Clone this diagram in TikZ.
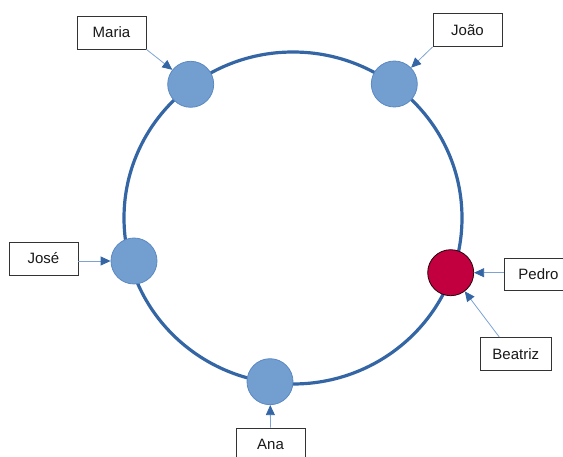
\documentclass[tikz,border=0pt]{standalone}
\usepackage{fontspec}
\setmainfont{Liberation Sans}
\usetikzlibrary{arrows.meta,calc}
\definecolor{ringblue}{HTML}{3465A4}
\definecolor{nodeblue}{HTML}{729FCF}
\definecolor{nodeedge}{HTML}{5B89C4}
\definecolor{pedrored}{HTML}{C2003F}
\definecolor{pointer}{HTML}{7FA2D4}
\definecolor{boxedge}{HTML}{333333}
\begin{document}
\begin{tikzpicture}[x=1pt,y=-1pt,
  member/.style={circle,minimum size=46pt,inner sep=0pt,fill=nodeblue,draw=nodeedge,line width=0.8pt},
  chosen/.style={member,fill=pedrored,draw=black!80!pedrored},
  namebox/.style={draw=boxedge,fill=white,line width=0.9pt,minimum width=69pt,minimum height=33pt,
    inner xsep=12.5pt,font=\fontsize{15}{18}\selectfont,text=black!90},
  pointto/.style={draw=pointer,line width=0.8pt,-{Triangle[length=10pt,width=9pt,color=ringblue]}}]
\useasboundingbox (0,0) rectangle (563,457);
\clip (0,0) rectangle (563,457);
% ring
\draw[ringblue,line width=3.2pt] (293,218) ellipse [x radius=169,y radius=166];
% members on the ring
\node[member] (m) at (190.7,84.3) {};
\node[member] (j) at (394.3,84) {};
\node[member] (js) at (134,261) {};
\node[chosen] (p) at (450.7,272.7) {};
\node[member] (a) at (270,381.7) {};
% name labels
\node[namebox] (maria) at (111.5,32.5) {Maria};
\node[namebox] (joao) at (467.5,30) {João};
\node[namebox] (jose) at (43.5,258.5) {José};
\node[namebox,minimum height=32pt] (pedro) at (538.5,274) {Pedro};
\node[namebox] (beatriz) at (515.8,354) {Beatriz};
\node[namebox] (ana) at (270.5,444.5) {Ana};
% pointers
\coordinate (bt) at ($(beatriz.north)+(-16.5,0)$);
\draw[pointto] (maria.south east) -- (m);
\draw[pointto] (joao.south west) -- (j);
\draw[pointto] (jose.east |- js) -- (js);
\draw[pointto] (pedro.west |- p) -- (p);
\draw[pointto] (bt) -- (p);
\draw[pointto] (ana.north) -- (a);
\end{tikzpicture}
\end{document}
